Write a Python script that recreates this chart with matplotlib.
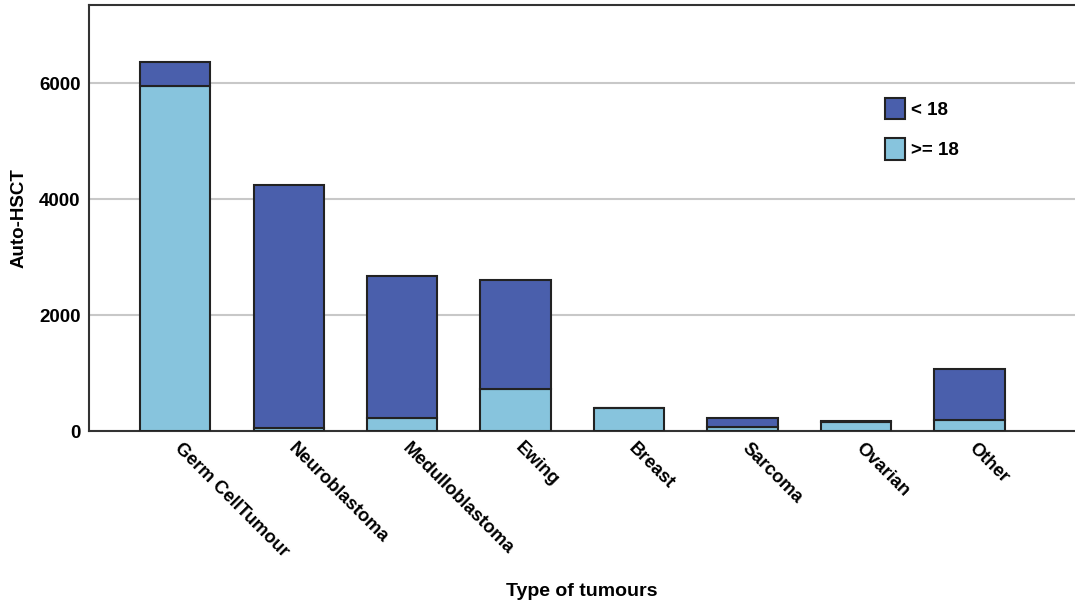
import matplotlib.pyplot as plt
import matplotlib.transforms as mtransforms
import numpy as np

plt.rcParams['font.family'] = ['Liberation Sans', 'DejaVu Sans']

tumours = ['Germ CellTumour', 'Neuroblastoma', 'Medulloblastoma', 'Ewing',
           'Breast', 'Sarcoma', 'Ovarian', 'Other']
adult = [5948, 52, 224, 724, 397, 64, 155, 184]        # >= 18
child = [414, 4194, 2448, 1879, 0, 160, 12, 885]       # < 18

dark = '#4a5fac'
light = '#87c4dd'
edge = '#222222'

fig = plt.figure(figsize=(10.75, 6.05), dpi=100)
ax = fig.add_axes([0.0828, 0.2876, 0.9172, 0.7041])

x = np.arange(len(tumours))
ax.bar(x, adult, width=0.62, color=light, edgecolor=edge, linewidth=1.5,
       label='>= 18', zorder=3)
ax.bar(x, child, width=0.62, bottom=adult, color=dark, edgecolor=edge,
       linewidth=1.5, label='< 18', zorder=3)

ax.set_xlim(-0.76, 7.93)
ax.set_ylim(0, 7350)
ax.set_yticks([0, 2000, 4000, 6000])
ax.set_yticklabels(['0', '2000', '4000', '6000'], fontsize=13.5, fontweight='bold')
ax.yaxis.grid(True, color='#c8c8c8', linewidth=1.5, zorder=0)
ax.set_axisbelow(True)
ax.tick_params(axis='both', length=0, pad=6)

ax.set_xticks(x)
ax.set_xticklabels(tumours, rotation=-45, ha='left', rotation_mode='anchor',
                   fontsize=13.2, fontweight='bold')
ax.tick_params(axis='x', pad=6)
# nudge rotated labels a bit to the right
offset = mtransforms.ScaledTranslation(6 / 72, 0, fig.dpi_scale_trans)
for lab in ax.get_xticklabels():
    lab.set_transform(lab.get_transform() + offset)

for s in ['left', 'bottom', 'top']:
    ax.spines[s].set_color('#333333')
    ax.spines[s].set_linewidth(1.5)
ax.spines['right'].set_visible(False)

ax.set_ylabel('Auto-HSCT', fontsize=13.5, fontweight='bold')
ax.yaxis.set_label_coords(-0.062, 0.5)
ax.set_xlabel('Type of tumours', fontsize=14, fontweight='bold')
ax.xaxis.set_label_coords(0.5, -0.357)

handles, labels = ax.get_legend_handles_labels()
ax.legend(handles[::-1], labels[::-1], loc='upper left',
          bbox_to_anchor=(0.79, 0.822), frameon=False, handlelength=1.05,
          handleheight=1.35, handletextpad=0.35, labelspacing=1.05,
          prop={'weight': 'bold', 'size': 13.5})

fig.savefig('out.png', dpi=100)
